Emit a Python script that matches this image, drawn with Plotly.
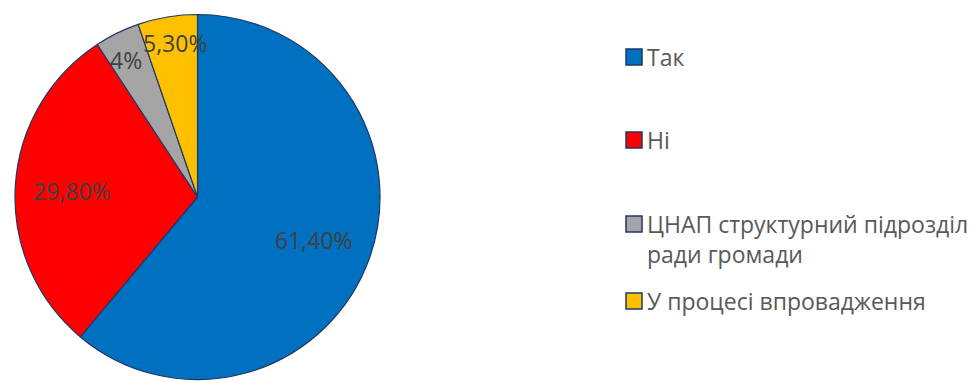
import math
import plotly.graph_objects as go

# Survey answers and shares (percent)
labels = ["Так", "Ні", "ЦНАП структурний підрозділ ради громади", "У процесі впровадження"]
legend_text = ["Так", "Ні", "ЦНАП структурний підрозділ<br>ради громади", "У процесі впровадження"]
values = [61.4, 29.8, 4.0, 5.3]
value_text = ["61,40%", "29,80%", "4%", "5,30%"]
colors = ["#0070C0", "#FF0000", "#A5A5A5", "#FFC000"]

W, H = 976, 383
FONT = "Open Sans"
FONT_SIZE = 23

# pie placement in pixels
px_left, px_right = 15, 380
px_top, px_bottom = 12, 382
cx = (px_left + px_right) / 2
cy = (px_top + px_bottom) / 2
r = min(px_right - px_left, px_bottom - px_top) / 2

fig = go.Figure(
    go.Pie(
        labels=labels,
        values=values,
        sort=False,
        direction="clockwise",
        rotation=0,
        marker=dict(colors=colors, line=dict(color="#1F3864", width=1.2)),
        textinfo="none",
        hoverinfo="label+value",
        showlegend=False,
        domain=dict(x=[px_left / W, px_right / W], y=[1 - px_bottom / H, 1 - px_top / H]),
    )
)

# data labels placed along each slice's bisector (small slices nudged apart)
radial = [0.68, 0.69, 0.84, 0.86]
nudge_x = [0, 0, -4, 3]
total = sum(values)
start = 0.0
for v, t, f, dx in zip(values, value_text, radial, nudge_x):
    mid = (start + v / 2) / total * 2 * math.pi
    start += v
    x = cx + f * r * math.sin(mid)
    y = cy - f * r * math.cos(mid)
    fig.add_annotation(
        x=x / W, y=1 - (y + 1) / H, xref="paper", yref="paper", xshift=dx,
        text=t, showarrow=False, xanchor="center", yanchor="middle",
        font=dict(family=FONT, size=FONT_SIZE, color="#404040"),
    )

# legend drawn as swatches plus text
legend_y = [57, 140, 224, 301]
sq_x0, sq_size, text_x = 626, 16, 645
for ly, txt, col in zip(legend_y, legend_text, colors):
    fig.add_shape(
        type="rect", xref="paper", yref="paper",
        x0=sq_x0 / W, x1=(sq_x0 + sq_size) / W,
        y0=1 - (ly + sq_size / 2) / H, y1=1 - (ly - sq_size / 2) / H,
        fillcolor=col, line=dict(color="#1F3864", width=1.5),
    )
    fig.add_annotation(
        x=text_x / W, y=1 - (ly - 18) / H, xref="paper", yref="paper",
        text=txt, showarrow=False, xanchor="left", yanchor="top", align="left",
        font=dict(family=FONT, size=FONT_SIZE, color="#595959"),
    )

fig.update_layout(
    width=W, height=H,
    margin=dict(l=0, r=0, t=0, b=0),
    paper_bgcolor="white",
    plot_bgcolor="white",
)

fig.write_html("out.html")
